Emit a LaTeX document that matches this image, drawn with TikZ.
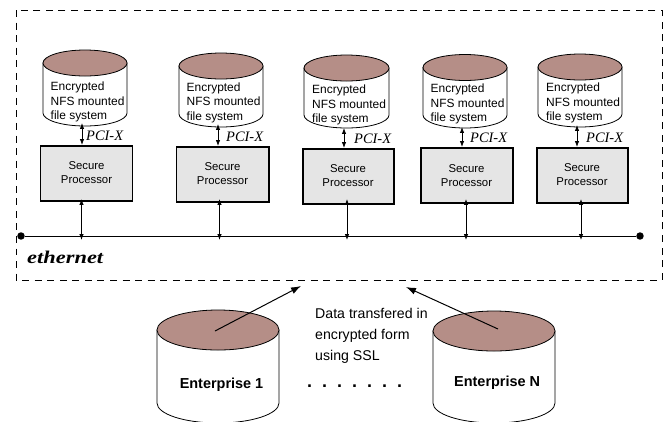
\documentclass[tikz,border=0pt]{standalone}
\usepackage{fontspec}
\setmainfont{Liberation Sans}
\newfontfamily\timesf{Liberation Serif}
\usetikzlibrary{arrows.meta}
\definecolor{diskbrown}{HTML}{B58E87}
\definecolor{procgray}{HTML}{E5E5E5}
\tikzset{
  diskside/.style={draw=black,line width=0.8pt,fill=white},
  disktop/.style={draw=black,line width=0.8pt,fill=diskbrown},
  procbox/.style={draw=black,line width=2pt,fill=procgray,align=center,font=\fontsize{11.4}{14}\selectfont,inner sep=0pt},
  disklabel/.style={anchor=west,align=left,inner sep=0pt,font=\fontsize{12}{14.5}\selectfont},
  pcilabel/.style={anchor=west,inner sep=0pt,font=\timesf\itshape\fontsize{14.5}{16}\selectfont},
  bothways/.style={line width=0.8pt,{Latex[length=6pt,width=4.5pt]}-{Latex[length=6pt,width=4.5pt]}},
  flowarrow/.style={line width=1pt,-{Latex[length=10pt,width=7pt]}},
  busline/.style={line width=0.9pt},
  busend/.style={circle,fill=black,inner sep=0pt,minimum size=7.5pt},
  boundary/.style={draw=black,line width=0.9pt,dash pattern=on 7pt off 5.6pt},
}
% #1 name, #2 centre x, #3 top centre y, #4 bottom centre y, #5 rx, #6 ry
\newcommand{\diskcyl}[6]{%
  \path[diskside] (#2-#5,#3) -- (#2-#5,#4) arc[start angle=180,end angle=0,x radius=#5,y radius=#6]
     -- (#2+#5,#3) -- cycle;
  \path[disktop] (#2,#3) ellipse[x radius=#5,y radius=#6];
  \coordinate (#1-bot) at (#2,#4+#6);
}
\begin{document}
\begin{tikzpicture}[x=1bp,y=-1bp]
\useasboundingbox (0,0) rectangle (665,421);
\clip (0,0) rectangle (665,421);
\draw[boundary] (16,10) rectangle (662,280);

% storage cylinders
\diskcyl{d1}{85}{63}{113}{42}{13}
\diskcyl{d2}{221}{66}{114}{42}{13}
\diskcyl{d3}{346.5}{68}{115}{42.5}{13}
\diskcyl{d4}{465}{67.5}{115}{42}{13}
\diskcyl{d5}{580}{67}{114}{42}{13}

\node[disklabel] (t1) at (50.5,102) {Encrypted\\NFS mounted\\file system};
\node[disklabel] (t2) at (186.5,102.5) {Encrypted\\NFS mounted\\file system};
\node[disklabel] (t3) at (312,105) {Encrypted\\NFS mounted\\file system};
\node[disklabel] (t4) at (430.5,104) {Encrypted\\NFS mounted\\file system};
\node[disklabel] (t5) at (546,103) {Encrypted\\NFS mounted\\file system};

% processors
\node[procbox,minimum width=92bp,minimum height=55bp] (p1) at (86.5,173) {Secure\\Processor};
\node[procbox,minimum width=92bp,minimum height=55bp] (p2) at (222.5,174) {Secure\\Processor};
\node[procbox,minimum width=91bp,minimum height=55bp] (p3) at (348,176) {Secure\\Processor};
\node[procbox,minimum width=92bp,minimum height=55bp] (p4) at (466.5,175.5) {Secure\\Processor};
\node[procbox,minimum width=91bp,minimum height=55bp] (p5) at (582,175) {Secure\\Processor};

% bus
\node[busend] (busL) at (21,236) {};
\node[busend] (busR) at (640,236) {};
\draw[busline] (busL) -- (busR);
\foreach \n/\x in {1/81.5,2/219.5,3/347,4/466,5/581}{
  \coordinate (b\n) at (\x,240);
  \coordinate (q\n) at (\x,199);
  \draw[bothways] (q\n) -- (b\n);
}
\foreach \n/\x/\ya/\yb in {1/82/123/145,2/218/124/146,3/344/128/148,4/462/127/147,5/577/125/147}{
  \coordinate (u\n) at (\x,\ya);
  \coordinate (v\n) at (\x,\yb);
  \draw[bothways] (u\n) -- (v\n);
}
\node[pcilabel] (x1) at (86,136) {PCI-X};
\node[pcilabel] (x2) at (226,136.5) {PCI-X};
\node[pcilabel] (x3) at (354,139) {PCI-X};
\node[pcilabel] (x4) at (470,137.5) {PCI-X};
\node[pcilabel] (x5) at (586,137.5) {PCI-X};

\node[anchor=west,inner sep=0pt,font=\timesf\bfseries\itshape\fontsize{18}{20}\selectfont,xscale=1.25] (eth) at (27,257) {ethernet};

% enterprises
\diskcyl{e1}{218}{330}{403}{61}{20}
\diskcyl{e2}{494}{331}{403}{61}{20}
\node[inner sep=0pt,font=\bfseries\fontsize{14.5}{16}\selectfont] (et1) at (221.5,385) {Enterprise 1};
\node[anchor=west,inner sep=0pt,font=\bfseries\fontsize{14.5}{16}\selectfont] (et2) at (454,382.5) {Enterprise N};

\coordinate (a1s) at (215,331);
\coordinate (a1e) at (301,286);
\coordinate (a2s) at (498,329);
\coordinate (a2e) at (406,287);
\draw[flowarrow] (a1s) -- (a1e);
\draw[flowarrow] (a2s) -- (a2e);

\node[anchor=west,align=left,inner sep=0pt,font=\fontsize{14.2}{21}\selectfont] (data) at (315,336) {Data transfered in\\encrypted form\\using SSL};
\node[anchor=west,inner sep=0pt,font=\bfseries\fontsize{18}{20}\selectfont] (dots) at (307,386) {.\hspace{10bp}.\hspace{10bp}.\hspace{10bp}.\hspace{10bp}.\hspace{10bp}.\hspace{10bp}.};
\end{tikzpicture}
\end{document}
